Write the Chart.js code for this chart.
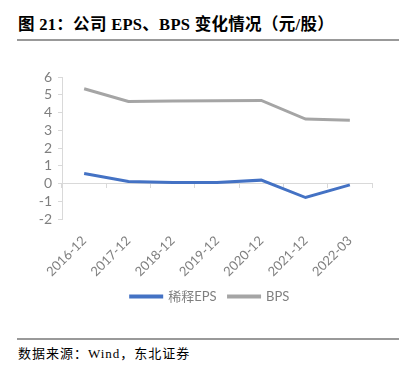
<!DOCTYPE html>
<html>
<head>
<meta charset="utf-8">
<script src="https://cdn.jsdelivr.net/npm/chart.js@4"></script>
<style>
  body { margin: 0; width: 405px; height: 372px; background: #fff; position: relative; overflow: hidden; }
  #title { position: absolute; left: 18px; top: 11px; font: bold 16.5px "Liberation Serif", "Noto Sans CJK SC", serif; color: #000; white-space: nowrap; letter-spacing: 0.3px; }
  .rule { position: absolute; left: 17px; width: 382px; height: 2px; background: #999; }
  #src { position: absolute; left: 18px; top: 343px; font: 13px "Liberation Serif", "Noto Sans CJK SC", serif; color: #000; white-space: nowrap; letter-spacing: 1px; }
  #wrap { position: absolute; left: 0; top: 40px; width: 405px; height: 273px; }
</style>
</head>
<body>
<div id="title">图 21：公司 EPS、BPS 变化情况（元/股）</div>
<div class="rule" style="top:39px"></div>
<div id="wrap"><canvas id="c"></canvas></div>
<div class="rule" style="top:338px"></div>
<div id="src">数据来源：Wind，东北证券</div>
<script>
const labels = ['2016-12', '2017-12', '2018-12', '2019-12', '2020-12', '2021-12', '2022-03'];
const eps = [0.56, 0.11, 0.06, 0.06, 0.19, -0.79, -0.08];
const bps = [5.34, 4.62, 4.65, 4.66, 4.68, 3.63, 3.57];
const yTicks = [-2, -1, 0, 1, 2, 3, 4, 5, 6];

const axisGray = '#d9d9d9';
const textGray = '#7f7f7f';
const fontFam = 'Lato, "Noto Sans CJK SC", sans-serif';

// legend sits a bit right of canvas centre in the original
const shiftLegend = {
    id: 'shiftLegend',
    afterUpdate(chart) {
        const lg = chart.legend;
        if (lg) { lg.left = 48; lg.right = 372; }
    }
};

new Chart(document.getElementById('c'), {
    type: 'line',
    data: {
        labels: labels,
        datasets: [{
            label: '稀释EPS',
            data: eps,
            borderColor: '#4472C4',
            backgroundColor: '#4472C4',
            borderWidth: 3,
            pointRadius: 0,
            tension: 0
        }, {
            label: 'BPS',
            data: bps,
            borderColor: '#A5A5A5',
            backgroundColor: '#A5A5A5',
            borderWidth: 3,
            pointRadius: 0,
            tension: 0
        }]
    },
    options: {
        responsive: true,
        maintainAspectRatio: false,
        animation: false,
        layout: { padding: { top: 37, left: 0, right: 33, bottom: 0 } },
        plugins: {
            tooltip: { enabled: false },
            legend: {
                position: 'bottom',
                labels: {
                    boxWidth: 31,
                    boxHeight: 1,
                    padding: 12,
                    color: '#7f7f7f',
                    font: { family: fontFam, size: 13 }
                }
            }
        },
        scales: {
            x: {
                offset: true,
                grid: { display: false },
                border: { display: false },
                ticks: {
                    minRotation: 45,
                    maxRotation: 45,
                    padding: 6,
                    autoSkip: false,
                    color: textGray,
                    font: { family: fontFam, size: 13 }
                },
                afterFit: (s) => { s.height = 59; }
            },
            x0: {
                type: 'category',
                position: { y: 0 },
                offset: true,
                grid: { offset: true, drawOnChartArea: false, drawTicks: true, tickLength: 4, color: axisGray },
                border: { color: axisGray, width: 1 },
                ticks: { display: false }
            },
            y: {
                min: -2,
                max: 6,
                afterBuildTicks: (s) => { s.ticks = yTicks.map(v => ({ value: v })); },
                grid: { drawOnChartArea: false, drawTicks: true, tickLength: 4, color: axisGray },
                border: { color: axisGray, width: 1 },
                ticks: {
                    padding: 6,
                    autoSkip: false,
                    color: textGray,
                    font: { family: fontFam, size: 14 }
                },
                afterFit: (s) => { s.width = 62; }
            }
        }
    },
    plugins: [shiftLegend]
});
</script>
</body>
</html>
